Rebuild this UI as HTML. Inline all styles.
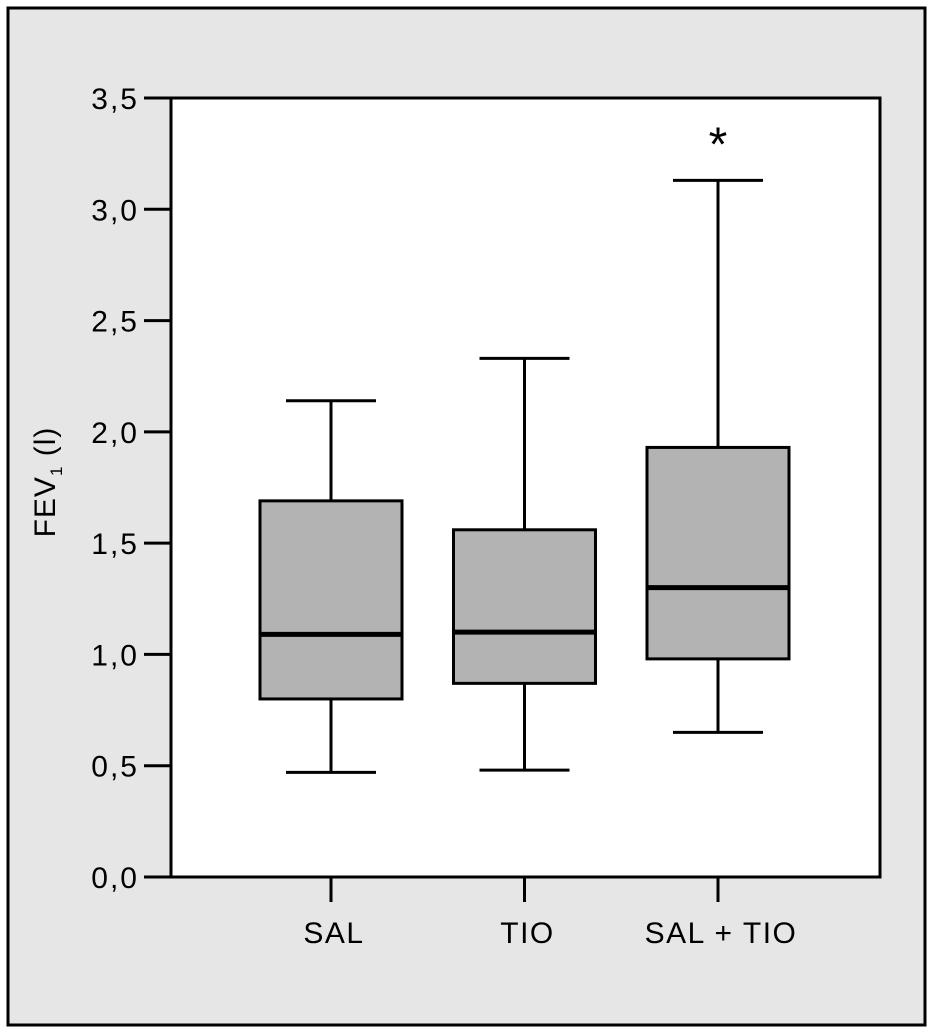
<!DOCTYPE html>
<html><head><meta charset="utf-8"><style>
html,body{margin:0;padding:0;background:#fff}
svg{display:block}
text{font-family:"Liberation Sans",sans-serif;fill:#000}
</style></head><body>
<svg id="chart" width="934" height="1036" viewBox="0 0 934 1036">
<rect x="8" y="8" width="917" height="1017" fill="#e6e6e6" stroke="#000" stroke-width="3"/>
<rect x="171" y="98" width="709" height="779" fill="#fff" stroke="#000" stroke-width="3"/>
<g id="yaxis"></g><g id="boxes"></g><g id="xaxis"></g>
<text transform="translate(55,482) rotate(-90)" text-anchor="middle" font-size="30" letter-spacing="1">FEV<tspan font-size="17" dy="7">1</tspan><tspan dy="-7"> (l)</tspan></text>
</svg>
<script>
const categories = ["SAL", "TIO", "SAL + TIO"];
const whiskerHigh = [2.14, 2.33, 3.13];
const q3 = [1.69, 1.56, 1.93];
const median = [1.09, 1.10, 1.30];
const q1 = [0.80, 0.87, 0.98];
const whiskerLow = [0.47, 0.48, 0.65];
const asterisk = [null, null, 3.3];
const yTicks = [0, 0.5, 1, 1.5, 2, 2.5, 3, 3.5];
const yTickLabels = ["0,0","0,5","1,0","1,5","2,0","2,5","3,0","3,5"];

const NS = "http://www.w3.org/2000/svg";
const y = v => 877 - v * (779 / 3.5);
const xc = i => 331 + i * 193.5;
function mk(tag, attrs, parent) {
  const e = document.createElementNS(NS, tag);
  for (const k in attrs) e.setAttribute(k, attrs[k]);
  parent.appendChild(e); return e;
}
const ya = document.getElementById('yaxis');
yTicks.forEach((t, i) => {
  const l = mk('line', {x1:144, x2:171, y1:y(t), y2:y(t), stroke:'#000', 'stroke-width':3}, ya);
  
  
  const tx = mk('text', {x:139, y:y(t)+11, 'text-anchor':'end', 'font-size':30, 'letter-spacing':2}, ya);
  tx.textContent = yTickLabels[i];
  
  
});
const bx = document.getElementById('boxes');
const xa = document.getElementById('xaxis');
categories.forEach((c, i) => {
  const cx = xc(i);
  const g = mk('g', {}, bx);
  
  
  const s = {stroke:'#000', 'stroke-width':3};
  mk('line', Object.assign({x1:cx, x2:cx, y1:y(whiskerHigh[i]), y2:y(q3[i])}, s), g);
  mk('line', Object.assign({x1:cx, x2:cx, y1:y(q1[i]), y2:y(whiskerLow[i])}, s), g);
  mk('line', Object.assign({x1:cx-45, x2:cx+45, y1:y(whiskerHigh[i]), y2:y(whiskerHigh[i])}, s), g);
  mk('line', Object.assign({x1:cx-45, x2:cx+45, y1:y(whiskerLow[i]), y2:y(whiskerLow[i])}, s), g);
  mk('rect', Object.assign({x:cx-71, width:142, y:y(q3[i]), height:y(q1[i])-y(q3[i]), fill:'#b3b3b3'}, s), g);
  mk('line', {x1:cx-71, x2:cx+71, y1:y(median[i]), y2:y(median[i]), stroke:'#000', 'stroke-width':5}, g);
  if (asterisk[i] != null) {
    const a = mk('text', {x:cx, y:y(asterisk[i])+18, 'text-anchor':'middle', 'font-size':48}, g);
    a.textContent = '*';
    
    
  }
  const t = mk('line', {x1:cx, x2:cx, y1:877, y2:902, stroke:'#000', 'stroke-width':3}, xa);
  
  
  const lb = mk('text', {x:cx+3, y:943, 'text-anchor':'middle', 'font-size':30, 'letter-spacing':1.5}, xa);
  lb.textContent = c;
  
  
});
</script>
</body></html>
